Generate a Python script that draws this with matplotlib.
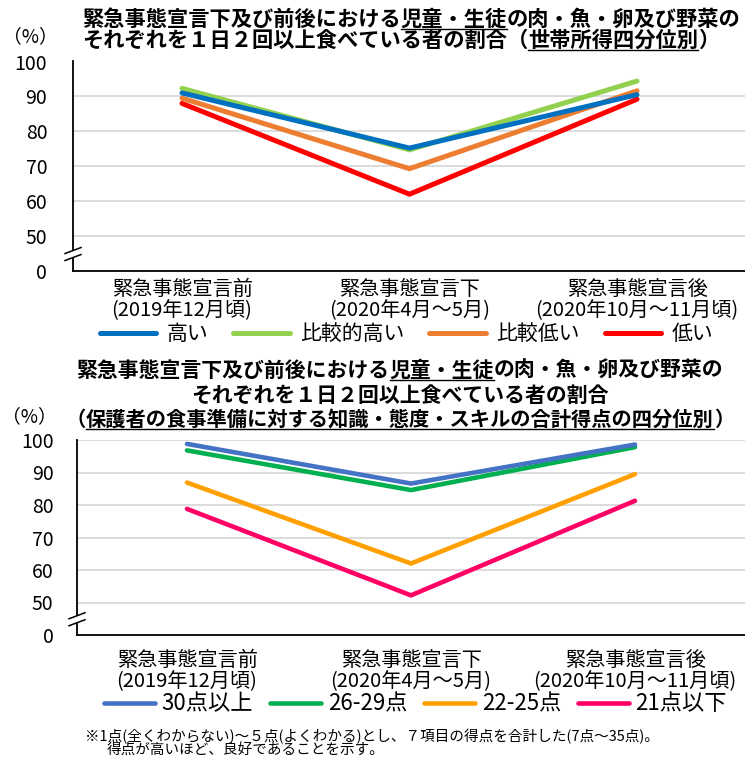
import matplotlib
matplotlib.use("Agg")
import matplotlib.pyplot as plt
from matplotlib.lines import Line2D
from matplotlib.patches import Polygon
from matplotlib.transforms import IdentityTransform

plt.rcParams['font.family'] = ['Noto Sans CJK JP', 'DejaVu Sans']

W, H = 745, 758

# --- data -------------------------------------------------------------
periods = ['緊急事態宣言前\n(2019年12月頃)',
           '緊急事態宣言下\n(2020年4月～5月)',
           '緊急事態宣言後\n(2020年10月～11月頃)']

# top chart: household income quartile
income_names = ['高い', '比較的高い', '比較低い', '低い']
income_high = [91.0, 75.2, 90.5]
income_mid_high = [92.3, 74.7, 94.4]
income_mid_low = [89.5, 69.3, 91.6]
income_low = [88.0, 62.0, 89.2]
income_colors = ['#0070C0', '#92D050', '#ED7D31', '#FF0000']

# bottom chart: guardian food-preparation score quartile
score_names = ['30点以上', '26-29点', '22-25点', '21点以下']
score_30up = [98.8, 86.6, 98.6]
score_26_29 = [96.8, 84.6, 97.8]
score_22_25 = [86.9, 62.0, 89.5]
score_21down = [78.8, 52.2, 81.3]
score_colors = ['#4472C4', '#00B050', '#FFA000', '#FF0066']

ytick_vals = [40, 50, 60, 70, 80, 90, 100]
ytick_labels = ['0', '50', '60', '70', '80', '90', '100']


def fx(px):
    return px / W


def fy(py):
    return 1 - py / H


fig = plt.figure(figsize=(W / 100, H / 100), dpi=100)


def title_line(segments, xpix, base, ha='left', size=15.3):
    r = fig.canvas.get_renderer()
    widths = []
    for s, _ in segments:
        t = fig.text(0, 0, s, fontsize=size, fontweight='bold')
        widths.append(t.get_window_extent(r).width)
        t.remove()
    x = xpix - sum(widths) / 2 if ha == 'center' else xpix
    for (s, ul), w in zip(segments, widths):
        fig.text(fx(x), fy(base), s, fontsize=size, fontweight='bold',
                 ha='left', va='baseline')
        if ul:
            fig.add_artist(Line2D([fx(x), fx(x + w)], [fy(base + 3)] * 2,
                                  color='black', lw=1.0))
        x += w


def make_panel(rect, series, names, colors, lw, xlim, tickpad, labelpad):
    ax = fig.add_axes(rect)
    handles = {}
    xs = range(len(periods))
    # draw the first series last so it sits on top
    for vals, name, c in reversed(list(zip(series, names, colors))):
        ln, = ax.plot(xs, vals, color=c, lw=lw, solid_capstyle='round',
                      solid_joinstyle='miter', label=name)
        handles[name] = ln
    ax.set_xlim(*xlim)
    ax.set_ylim(40, 100)
    ax.set_yticks(ytick_vals)
    ax.set_yticklabels(ytick_labels, fontsize=14)
    ax.set_xticks(list(xs))
    ax.set_xticklabels(periods, fontsize=14.5, linespacing=0.98)
    ax.tick_params(axis='y', length=0, pad=tickpad)
    ax.tick_params(axis='x', length=0, pad=labelpad)
    for v in ytick_vals[1:]:
        ax.axhline(v, color='#D9D9D9', lw=1.3, zorder=0)
    for s in ['top', 'right']:
        ax.spines[s].set_visible(False)
    for s in ['left', 'bottom']:
        ax.spines[s].set_linewidth(1.3)
    # axis break mark on the y axis
    sx, sy = ax.transData.transform((xlim[0], 45))
    poly = Polygon([(sx - 8, sy - 7), (sx + 8, sy - 1), (sx + 8, sy + 6), (sx - 8, sy)],
                   closed=True, facecolor='white', edgecolor='none',
                   transform=IdentityTransform(), zorder=5)
    fig.add_artist(poly)
    for d in (-7, 0):
        fig.add_artist(Line2D([sx - 8, sx + 8], [sy + d, sy + d + 6], color='black',
                              lw=1.1, transform=IdentityTransform(), zorder=6))
    return ax, [handles[n] for n in names]


# --- top panel --------------------------------------------------------
title_line([('緊急事態宣言下及び前後における', False), ('児童・生徒', True),
            ('の肉・魚・卵及び野菜の', False)], 82, 26)
title_line([('それぞれを１日２回以上食べている者の割合（', False),
            ('世帯所得四分位別', True), ('）', False)], 82, 47)
fig.text(fx(30), fy(37), '（%）', fontsize=13.5, ha='center', va='center')

ax1, h1 = make_panel([fx(73), fy(271), 1 - fx(73), (271 - 61.5) / H],
                     [income_high, income_mid_high, income_mid_low, income_low],
                     income_names, income_colors, 3.6,
                     ((73 - 182) / 227.5, (745 - 182) / 227.5), 18.5, 6)
fig.legend(h1, income_names, loc='center left', bbox_to_anchor=(fx(100), fy(334)),
           ncol=4, frameon=False, fontsize=15, handlelength=2.7,
           handletextpad=0.5, columnspacing=1.2, borderpad=0, borderaxespad=0)

# --- bottom panel -----------------------------------------------------
title_line([('緊急事態宣言下及び前後における', False), ('児童・生徒', True),
            ('の肉・魚・卵及び野菜の', False)], 400, 377, ha='center', size=15)
title_line([('それぞれを１日２回以上食べている者の割合', False)], 400, 402,
           ha='center', size=15)
title_line([('（', False), ('保護者の食事準備に対する知識・態度・スキルの合計得点の四分位別', True),
            ('）', False)], 400, 426, ha='center', size=14.6)
fig.text(fx(29), fy(417), '（%）', fontsize=13.5, ha='center', va='center')

ax2, h2 = make_panel([fx(77), fy(635), 1 - fx(77), (635 - 440) / H],
                     [score_30up, score_26_29, score_22_25, score_21down],
                     score_names, score_colors, 3.3,
                     ((77 - 187) / 224, (745 - 187) / 224), 17, 11)
fig.legend(h2, score_names, loc='center left', bbox_to_anchor=(fx(104), fy(704)),
           ncol=4, frameon=False, fontsize=16, handlelength=2.3,
           handletextpad=0.3, columnspacing=0.75, borderpad=0, borderaxespad=0)

fig.text(fx(85), fy(737), '※1点(全くわからない)～５点(よくわかる)とし、７項目の得点を合計した(7点～35点)。',
         fontsize=10.5, ha='left', va='center')
fig.text(fx(107), fy(751), '得点が高いほど、良好であることを示す。',
         fontsize=10.5, ha='left', va='center')

fig.savefig('out.png', dpi=100)
